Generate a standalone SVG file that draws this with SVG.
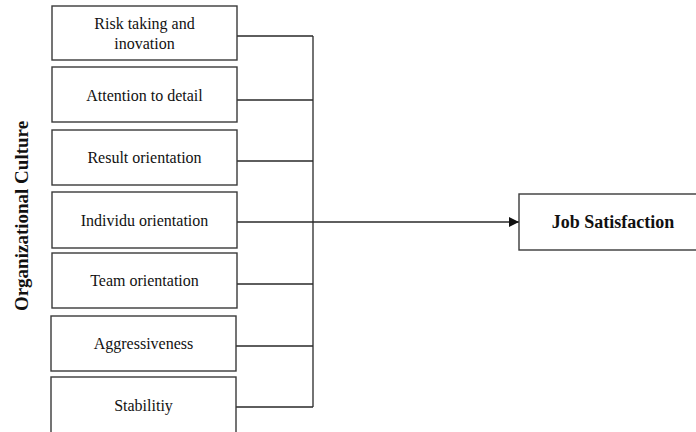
<svg xmlns="http://www.w3.org/2000/svg" width="696" height="432" viewBox="0 0 696 432">
<style>
.box{fill:#fff;stroke:#3a3a3a;stroke-width:1.4}
.t{font-family:"Liberation Serif","Times New Roman",serif;font-size:16px;fill:#111;text-anchor:middle;dominant-baseline:central}
.b{font-weight:bold;font-size:18px}
.v{font-size:19px}
.c{fill:none;stroke:#2a2a2a;stroke-width:1.3}
</style>
<defs>
<marker id="ah" viewBox="0 0 10 10" refX="10" refY="5" markerWidth="10" markerHeight="10" markerUnits="userSpaceOnUse" orient="auto">
<path d="M0,0 L10,5 L0,10 Z" fill="#111"/>
</marker>
</defs>
<rect width="696" height="432" fill="#fff"/>
<text class="t b v" transform="translate(21,216) rotate(-90)">Organizational Culture</text>
<g id="connectors">
<path class="c" d="M237,36 H313 M237,100 H313 M237,161 H313 M237,284 H313 M236,346 H313 M236,407 H313 M313,36 V407"/>
<path class="c" d="M237,222 H519" marker-end="url(#ah)"/>
</g>
<g id="n1"><rect class="box" x="52" y="6" width="185" height="54"/><text class="t" x="144.5" y="23">Risk taking and</text><text class="t" x="144.5" y="43">inovation</text></g>
<g id="n2"><rect class="box" x="52" y="67" width="185" height="55"/><text class="t" x="144.5" y="95">Attention to detail</text></g>
<g id="n3"><rect class="box" x="52" y="130" width="185" height="55"/><text class="t" x="144.5" y="157">Result orientation</text></g>
<g id="n4"><rect class="box" x="52" y="192" width="185" height="56"/><text class="t" x="144.5" y="220">Individu orientation</text></g>
<g id="n5"><rect class="box" x="52" y="253" width="185" height="55"/><text class="t" x="144.5" y="280">Team orientation</text></g>
<g id="n6"><rect class="box" x="51" y="316" width="185" height="55"/><text class="t" x="143.5" y="343">Aggressiveness</text></g>
<g id="n7"><rect class="box" x="51" y="377" width="185" height="60"/><text class="t" x="143.5" y="405">Stabilitiy</text></g>
<g id="n8"><rect class="box" x="519" y="194" width="180" height="56"/><text class="t b" x="613" y="222">Job Satisfaction</text></g>
</svg>
